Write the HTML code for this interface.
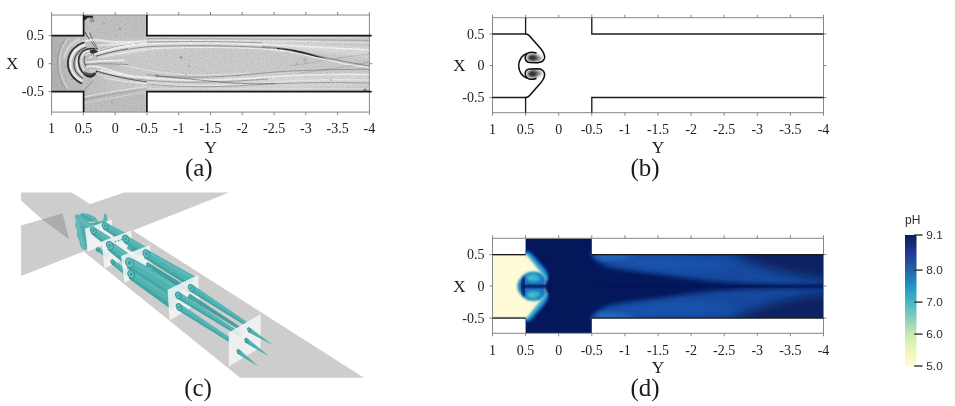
<!DOCTYPE html>
<html><head><meta charset="utf-8"><title>figure</title>
<style>
html,body{margin:0;padding:0;background:#fff;}
body{width:955px;height:406px;overflow:hidden;font-family:"Liberation Serif",serif;}
svg{display:block;}
svg text{font-family:"Liberation Serif",serif;fill:#1a1a1a;opacity:0.99;}
svg text.sans{font-family:"Liberation Sans",sans-serif;fill:#2a2a2a;}
</style></head><body>
<svg width="955" height="406" viewBox="0 0 955 406">
<rect width="955" height="406" fill="#fff"/>
<defs>
<clipPath id="ca"><path d="M51.6 35.7H83.6V15.0H146.9V35.7H369.4V91.6H146.9V112.1H83.6V91.6H51.6Z"/></clipPath>
<filter id="fa" x="-5%" y="-5%" width="110%" height="110%"><feGaussianBlur stdDeviation="0.45"/></filter>
<filter id="fa2" x="-5%" y="-20%" width="110%" height="140%"><feGaussianBlur stdDeviation="1.6"/></filter>
<filter id="noise" x="0" y="0" width="100%" height="100%"><feTurbulence type="fractalNoise" baseFrequency="0.7" numOctaves="2" seed="4" result="n"/><feColorMatrix in="n" type="matrix" values="0 0 0 0 0  0 0 0 0 0  0 0 0 0 0  0.9 0 0 0 -0.32"/></filter>
<linearGradient id="ga" x1="0" y1="0" x2="1" y2="0"><stop offset="0" stop-color="#b9b9b9"/><stop offset="0.1" stop-color="#c2c2c2"/><stop offset="0.3" stop-color="#d0d0d0"/><stop offset="0.75" stop-color="#d3d3d3"/><stop offset="1" stop-color="#cacaca"/></linearGradient>
</defs>
<g clip-path="url(#ca)"><rect x="51.6" y="15.0" width="317.79999999999995" height="97.1" fill="url(#ga)"/>
<rect x="83.6" y="15.0" width="63.30000000000001" height="23.700000000000003" fill="#c4c4c4" filter="url(#fa2)"/>
<rect x="83.6" y="90.6" width="63.30000000000001" height="21.5" fill="#c2c2c2" filter="url(#fa2)"/>
<g filter="url(#fa2)"><path d="M96 50 C120 43 160 40 200 40.5 C250 41 300 43 369 47 L369 58 C320 52 290 48 260 47 C220 45.5 170 46 140 52 C120 56 105 58 96 56Z" fill="#e2e2e2" opacity="0.75"/><path d="M96 68 C120 74 150 78 200 79 C250 80 300 76 369 73 L369 86 C300 87 250 88 200 87 C160 86 120 82 98 76Z" fill="#dedede" opacity="0.7"/><path d="M118 63 C140 52 170 47 200 47 C240 47 270 48 285 50 C320 56 350 62 369 66 C340 68 300 70 260 72 C230 75 200 76.5 175 75 C150 73 130 68 118 63Z" fill="#cdcdcd" opacity="0.9"/><path d="M51 36H66C60 45 57 55 57 64C57 74 60 83 66 92H51Z" fill="#b4b4b4" opacity="0.8"/></g>
<g filter="url(#fa)"><path d="M97 53 C115 47 135 44 150 43.5 C190 42.5 230 43 262 44.5 C300 46 335 48 369 50" stroke="#f6f6f6" stroke-width="1.6" fill="none" opacity="0.95"/><path d="M110 44 C130 41 150 40.5 175 40.5 C220 40.5 260 41 300 41.5 C330 42 350 42.5 369 43" stroke="#f6f6f6" stroke-width="0.9" fill="none" opacity="0.8"/><path d="M100 51 C118 45.5 138 42.5 152 42 C190 41.3 230 41.6 262 42.8" stroke="#2a2a2a" stroke-width="0.7" fill="none" opacity="0.45"/><path d="M96 56 C112 51.5 135 47.5 152 46.5 C180 45.5 200 45.5 225 46 C250 46.5 268 47.5 280 49" stroke="#2a2a2a" stroke-width="0.8" fill="none" opacity="0.5"/><path d="M98 58 C115 54 138 50 155 48.5 C180 47.5 205 47.3 230 47.8 C255 48.2 272 49.5 284 51.5" stroke="#f6f6f6" stroke-width="1.0" fill="none" opacity="0.85"/><path d="M147 38.5 C200 38.5 280 39 369 40.5" stroke="#2a2a2a" stroke-width="0.6" fill="none" opacity="0.35"/><path d="M147 37.3 C200 37.4 280 37.6 369 38" stroke="#f6f6f6" stroke-width="0.7" fill="none" opacity="0.5"/><path d="M262 46.5 C280 47.5 292 49 305 52.5 C325 58 350 62.5 369 66" stroke="#2a2a2a" stroke-width="0.9" fill="none" opacity="0.45"/><path d="M277 48 C289 48.6 300 50.6 311 54 C317 55.9 323 57.8 329 59.6 C320 58 311 56 302 53.6 C294 51.4 286 49.8 277 48.9Z" fill="#1a1a1a" opacity="0.88"/><path d="M270 49.3 C285 50.5 300 53.5 315 57.5 C335 62.5 352 65.5 369 67.6" stroke="#f6f6f6" stroke-width="1.1" fill="none" opacity="0.95"/><path d="M100 70 C120 75.5 150 79 185 80 C215 80.5 240 79 268 77 C300 75 340 74 369 74.5" stroke="#f6f6f6" stroke-width="1.5" fill="none" opacity="0.9"/><path d="M98 72.5 C120 78 150 81.6 185 82.3 C215 82.6 240 81 268 79" stroke="#2a2a2a" stroke-width="0.7" fill="none" opacity="0.45"/><path d="M104 78 C130 83 160 85.5 200 85.5 C240 85.5 262 83 290 81 C320 79.5 345 79.5 369 80" stroke="#f6f6f6" stroke-width="1.0" fill="none" opacity="0.75"/><path d="M147 84 C180 87.3 215 87.6 250 85 C290 82.5 330 82 369 83" stroke="#2a2a2a" stroke-width="0.8" fill="none" opacity="0.4"/><path d="M155 76 C185 78.5 200 80 225 82.5 C245 84 260 84 275 83.4" stroke="#2a2a2a" stroke-width="0.9" fill="none" opacity="0.5"/><path d="M147 88.6 C200 88.8 280 88.6 369 88.4" stroke="#f6f6f6" stroke-width="0.8" fill="none" opacity="0.6"/><path d="M147 74.5 C165 76.8 185 77.6 205 77.2 C230 76.5 252 74 275 72 C300 70.2 330 69.4 369 69.2" stroke="#2a2a2a" stroke-width="0.7" fill="none" opacity="0.45"/><path d="M120 64.5 C135 68 150 71.5 175 74 C200 75.8 225 75 250 72.8" stroke="#f6f6f6" stroke-width="0.9" fill="none" opacity="0.7"/><path d="M300 73 C320 70.5 345 67 369 62" stroke="#2a2a2a" stroke-width="0.5" fill="none" opacity="0.3"/><path d="M290 66 C310 63 335 58 369 54" stroke="#2a2a2a" stroke-width="0.5" fill="none" opacity="0.25"/><path d="M84 97 C100 93.5 120 90 147 86.5" stroke="#f6f6f6" stroke-width="1.2" fill="none" opacity="0.7"/><path d="M84 103 C105 99 125 95.5 147 92" stroke="#f6f6f6" stroke-width="0.9" fill="none" opacity="0.5"/><path d="M84 99.5 C105 95.5 125 92 147 88.6" stroke="#2a2a2a" stroke-width="0.6" fill="none" opacity="0.3"/><path d="M84.4 31.5 C88 37.5 92.5 43.5 97.3 49.3" stroke="#2a2a2a" stroke-width="1.0" fill="none" opacity="0.85"/><path d="M89.6 32.5 C91.6 38 94.4 43.5 97.6 49.6" stroke="#2a2a2a" stroke-width="0.8" fill="none" opacity="0.75"/><path d="M87.5 33.5 C90 38.5 93 43.5 96.5 48" stroke="#f6f6f6" stroke-width="1.0" fill="none" opacity="0.6"/><path d="M72.5 50 C76 44.5 83 40.5 92 40 C98 39.8 104 41 112 41.8 C122 42.5 135 42.2 147 41.8" stroke="#f6f6f6" stroke-width="2.4" fill="none" opacity="0.75"/><path d="M98 45.5 C108 45 120 44.3 135 43.8" stroke="#f6f6f6" stroke-width="1.6" fill="none" opacity="0.85"/><path d="M83.8 91.5 C86.5 87.5 90 83.5 93.5 80.5" stroke="#555" stroke-width="0.7" fill="none" opacity="0.55"/><path d="M84.5 42.3 C76 44.5 69 51.5 68 61 C67 70 72 79 82 83.5" stroke="#2a2a2a" stroke-width="1.9" fill="none" opacity="0.9"/><path d="M85.5 44.6 C78 46.6 71.2 53 70.5 61.5 C69.8 69.5 74 77 82.5 81.2" stroke="#f6f6f6" stroke-width="2.3" fill="none" opacity="0.95"/><path d="M86 47.2 C79.8 49.2 74.6 54.8 73.9 62 C73.3 68.5 76.8 74.5 82.8 78.4" stroke="#2a2a2a" stroke-width="1.1" fill="none" opacity="0.75"/><path d="M86.2 49.8 C81.4 51.2 77.4 56 76.7 62 C76.2 67 78.8 72 83.2 75.4" stroke="#f6f6f6" stroke-width="1.6" fill="none" opacity="0.92"/><path d="M80 38.8 C71.5 42.3 65.8 49.5 64 59" stroke="#f6f6f6" stroke-width="2.6" fill="none" opacity="0.45"/><path d="M66 38 C59.5 46 57 55 57.3 64 C57.5 73 60.5 82 65.5 89" stroke="#2a2a2a" stroke-width="0.7" fill="none" opacity="0.3"/><path d="M68 38.5 C62 46 59.5 55 59.8 64 C60 73 62.8 81 67.5 88" stroke="#f6f6f6" stroke-width="1.2" fill="none" opacity="0.5"/><path d="M95.5 48.8 C89.5 48 83 49.5 80.3 54 C78 58 78.5 64 80 68 C82 73 86 76.5 90 76.6 C93 76.5 95.5 74 96.8 71" stroke="#2a2a2a" stroke-width="1.7" fill="none" opacity="0.9"/><path d="M93 51 C88.5 50.5 84 52 82.3 55.5 C80.7 59 81 63.5 82.3 67 C84 71 87 73.8 90 74" stroke="#f6f6f6" stroke-width="1.2" fill="none" opacity="0.9"/><path d="M92 53.2 C88.5 53 85.5 54.5 84.5 57.5 C83.7 60.5 84.5 64 86 66.5" stroke="#2a2a2a" stroke-width="0.9" fill="none" opacity="0.7"/><path d="M90 50.2 C93 49.2 96.5 49.5 98.2 51.3 C97 54 94.5 55.3 92 55.8 C90.6 54.5 89.6 52.3 90 50.2Z" fill="#1b1b1b" opacity="0.85"/><path d="M84 70.5 C87 73.5 91 74 95.2 72.3 C96.2 74.5 94 77.5 90 77.8 C86.5 77.6 84.3 74.5 84 70.5Z" fill="#222" opacity="0.7"/><path d="M85.5 55.8 C87.5 53.3 90.5 52.8 92.3 54.3 C93 55.8 91.5 57.3 89 57.8" stroke="#f6f6f6" stroke-width="1.1" fill="none" opacity="0.95"/><path d="M93.5 54.5 C104 51 115 48 127 46 C135 44.8 142 44 147 43.6" stroke="#f6f6f6" stroke-width="1.8" fill="none" opacity="0.95"/><path d="M96 56.3 C106 53.3 117 50.5 128 48.6" stroke="#2a2a2a" stroke-width="0.8" fill="none" opacity="0.5"/><path d="M85.5 62.3 C95 61.3 108 60.6 125 60.4" stroke="#f6f6f6" stroke-width="1.6" fill="none" opacity="0.9"/><path d="M85 64.5 C96 63.6 110 63.5 128 64.6" stroke="#2a2a2a" stroke-width="0.7" fill="none" opacity="0.45"/><path d="M86.5 67 C92 65.6 98 66.3 104 68.3 C114 71.8 124 75 136 77.5" stroke="#f6f6f6" stroke-width="1.7" fill="none" opacity="0.95"/><path d="M96.5 71 C104 73.2 114 76 126 78.6 C133 80 140 81 147 81.8" stroke="#2a2a2a" stroke-width="1.0" fill="none" opacity="0.7"/><path d="M90 70.3 C93 70.6 95 71.6 96.5 73" stroke="#f6f6f6" stroke-width="1.0" fill="none" opacity="0.8"/></g>
<g filter="url(#fa)"><circle cx="181" cy="57.5" r="1.6" fill="#555" opacity="0.35"/><circle cx="189" cy="66" r="1.2" fill="#555" opacity="0.2"/><circle cx="157" cy="75.5" r="1.1" fill="#555" opacity="0.3"/><circle cx="186" cy="74.5" r="0.9" fill="#555" opacity="0.3"/><circle cx="305" cy="60" r="2.2" fill="#555" opacity="0.18"/><circle cx="297" cy="63" r="1.6" fill="#555" opacity="0.15"/><circle cx="238" cy="75" r="1" fill="#555" opacity="0.2"/><circle cx="120" cy="29" r="1.3" fill="#555" opacity="0.25"/><circle cx="104" cy="23" r="1.5" fill="#555" opacity="0.2"/><circle cx="92" cy="20" r="2.5" fill="#555" opacity="0.35"/><circle cx="112" cy="102" r="1.5" fill="#555" opacity="0.15"/><circle cx="331" cy="80" r="1.2" fill="#555" opacity="0.2"/><circle cx="365" cy="90" r="1.8" fill="#555" opacity="0.5"/></g>
<path d="M84 15.5h9v2.2h-5l-4 3Z" fill="#111" opacity="0.85" filter="url(#fa)"/>
<rect x="51.6" y="15.0" width="317.79999999999995" height="97.1" filter="url(#noise)" opacity="0.22"/></g>
<rect x="51.6" y="15.0" width="317.79999999999995" height="97.1" fill="none" stroke="#868686" stroke-width="1"/>
<path d="M51.60 12.0V15.0 M51.60 112.1V115.1 M83.38 12.0V15.0 M83.38 112.1V115.1 M115.16 12.0V15.0 M115.16 112.1V115.1 M146.94 12.0V15.0 M146.94 112.1V115.1 M178.72 12.0V15.0 M178.72 112.1V115.1 M210.50 12.0V15.0 M210.50 112.1V115.1 M242.28 12.0V15.0 M242.28 112.1V115.1 M274.06 12.0V15.0 M274.06 112.1V115.1 M305.84 12.0V15.0 M305.84 112.1V115.1 M337.62 12.0V15.0 M337.62 112.1V115.1 M369.40 12.0V15.0 M369.40 112.1V115.1 M48.6 35.7H51.6 M369.4 35.7H372.4 M48.6 63.7H51.6 M369.4 63.7H372.4 M48.6 91.6H51.6 M369.4 91.6H372.4 " stroke="#868686" stroke-width="1" fill="none"/>
<path d="M51.6 35.7H83.6V15.0 M146.9 15.0V35.7H371.4 M51.6 91.6H83.6V112.1 M146.9 112.1V91.6H371.4" stroke="#161616" stroke-width="1.7" fill="none"/>
<text x="51.60" y="133.2" text-anchor="middle" font-size="14">1</text>
<text x="83.38" y="133.2" text-anchor="middle" font-size="14">0.5</text>
<text x="115.16" y="133.2" text-anchor="middle" font-size="14">0</text>
<text x="146.94" y="133.2" text-anchor="middle" font-size="14">-0.5</text>
<text x="178.72" y="133.2" text-anchor="middle" font-size="14">-1</text>
<text x="210.50" y="133.2" text-anchor="middle" font-size="14">-1.5</text>
<text x="242.28" y="133.2" text-anchor="middle" font-size="14">-2</text>
<text x="274.06" y="133.2" text-anchor="middle" font-size="14">-2.5</text>
<text x="305.84" y="133.2" text-anchor="middle" font-size="14">-3</text>
<text x="337.62" y="133.2" text-anchor="middle" font-size="14">-3.5</text>
<text x="369.40" y="133.2" text-anchor="middle" font-size="14">-4</text>
<text x="44" y="40.40" text-anchor="end" font-size="14">0.5</text>
<text x="44" y="68.40" text-anchor="end" font-size="14">0</text>
<text x="44" y="96.30" text-anchor="end" font-size="14">-0.5</text>
<text x="12.2" y="69" text-anchor="middle" font-size="17">X</text>
<text x="210.5" y="152.5" text-anchor="middle" font-size="17.5">Y</text>
<text x="198.8" y="176.2" text-anchor="middle" font-size="25">(a)</text>
<defs><filter id="fb" x="-30%" y="-30%" width="160%" height="160%"><feGaussianBlur stdDeviation="1.5"/></filter>
<filter id="fb2" x="-10%" y="-10%" width="120%" height="120%"><feGaussianBlur stdDeviation="0.35"/></filter></defs>
<rect x="492.5" y="17.7" width="331.0" height="95.0" fill="none" stroke="#868686" stroke-width="1"/>
<path d="M492.50 14.7V17.7 M492.50 112.7V115.7 M525.60 14.7V17.7 M525.60 112.7V115.7 M558.70 14.7V17.7 M558.70 112.7V115.7 M591.80 14.7V17.7 M591.80 112.7V115.7 M624.90 14.7V17.7 M624.90 112.7V115.7 M658.00 14.7V17.7 M658.00 112.7V115.7 M691.10 14.7V17.7 M691.10 112.7V115.7 M724.20 14.7V17.7 M724.20 112.7V115.7 M757.30 14.7V17.7 M757.30 112.7V115.7 M790.40 14.7V17.7 M790.40 112.7V115.7 M823.50 14.7V17.7 M823.50 112.7V115.7 M489.5 34.0H492.5 M823.5 34.0H826.5 M489.5 65.5H492.5 M823.5 65.5H826.5 M489.5 97.5H492.5 M823.5 97.5H826.5 " stroke="#868686" stroke-width="1" fill="none"/>
<path d="M492.5 34.0H525.6 M525.6 17.7V34.0 M591.8 17.7V34.0H823.5 M492.5 97.5H525.6 M525.6 112.7V97.5 M591.8 112.7V97.5H823.5" stroke="#1c1c1c" stroke-width="1.35" fill="none"/>
<g><ellipse cx="532.3" cy="57.6" rx="4.6" ry="3.2" fill="#111" opacity="0.9" filter="url(#fb)"/><ellipse cx="535.5" cy="58.3" rx="6.5" ry="3.0" fill="#333" opacity="0.6" filter="url(#fb)"/><path d="M525.6 34 Q528 34 529.6 35.9 L540.6 48.5 Q545.6 54.8 544.4 58.6 Q543 62.6 537.5 62.7 L529.5 62.4 Q525.8 62 525.2 58.5 Q525 54.5 528.5 52.8 Q532 51.5 536 53" stroke="#0d0d0d" stroke-width="1.5" fill="none" stroke-linecap="round" stroke-linejoin="round" filter="url(#fb2)"/><path d="M527.3 53.3 Q519.3 56 518.6 65.8" stroke="#0d0d0d" stroke-width="1.6" fill="none" filter="url(#fb2)"/></g>
<g transform="translate(0 131.5) scale(1 -1)"><ellipse cx="532.3" cy="57.6" rx="4.6" ry="3.2" fill="#111" opacity="0.9" filter="url(#fb)"/><ellipse cx="535.5" cy="58.3" rx="6.5" ry="3.0" fill="#333" opacity="0.6" filter="url(#fb)"/><path d="M525.6 34 Q528 34 529.6 35.9 L540.6 48.5 Q545.6 54.8 544.4 58.6 Q543 62.6 537.5 62.7 L529.5 62.4 Q525.8 62 525.2 58.5 Q525 54.5 528.5 52.8 Q532 51.5 536 53" stroke="#0d0d0d" stroke-width="1.5" fill="none" stroke-linecap="round" stroke-linejoin="round" filter="url(#fb2)"/><path d="M527.3 53.3 Q519.3 56 518.6 65.8" stroke="#0d0d0d" stroke-width="1.6" fill="none" filter="url(#fb2)"/></g>
<text x="492.50" y="134.2" text-anchor="middle" font-size="14">1</text>
<text x="525.60" y="134.2" text-anchor="middle" font-size="14">0.5</text>
<text x="558.70" y="134.2" text-anchor="middle" font-size="14">0</text>
<text x="591.80" y="134.2" text-anchor="middle" font-size="14">-0.5</text>
<text x="624.90" y="134.2" text-anchor="middle" font-size="14">-1</text>
<text x="658.00" y="134.2" text-anchor="middle" font-size="14">-1.5</text>
<text x="691.10" y="134.2" text-anchor="middle" font-size="14">-2</text>
<text x="724.20" y="134.2" text-anchor="middle" font-size="14">-2.5</text>
<text x="757.30" y="134.2" text-anchor="middle" font-size="14">-3</text>
<text x="790.40" y="134.2" text-anchor="middle" font-size="14">-3.5</text>
<text x="823.50" y="134.2" text-anchor="middle" font-size="14">-4</text>
<text x="484.5" y="38.70" text-anchor="end" font-size="14">0.5</text>
<text x="484.5" y="70.20" text-anchor="end" font-size="14">0</text>
<text x="484.5" y="102.20" text-anchor="end" font-size="14">-0.5</text>
<text x="459.5" y="71" text-anchor="middle" font-size="17">X</text>
<text x="658" y="152.7" text-anchor="middle" font-size="17.5">Y</text>
<text x="645" y="176.2" text-anchor="middle" font-size="25">(b)</text>
<defs><filter id="fc" x="-10%" y="-10%" width="120%" height="120%"><feGaussianBlur stdDeviation="0.4"/></filter>
<filter id="fc2" x="-20%" y="-20%" width="140%" height="140%"><feGaussianBlur stdDeviation="0.9"/></filter></defs>
<g filter="url(#fc)"><path d="M21.1 225.6 L62.5 213.3 L124.4 192.4 L229.2 192.4 L132.8 230.6 L364 377.8 L240.1 377.8 L83.6 251.4 L21.1 276Z" fill="#cdcdcd"/>
<path d="M21.1 192.4 L71.6 192.4 L90.3 204.3 L63 214.2 L69.1 239.2 L42 219.3 L21.1 200.4Z" fill="#cdcdcd"/>
<path d="M42 219.4 L62.5 213.3 L69.1 239.2Z" fill="#acacac"/>
<path d="M136.9 230.8 L364 378 L352 378 L131 234Z" fill="#d6d6d6" opacity="0.0"/>
<g><path d="M74.6 216 L76.5 214.2 L79 215 L81.5 213.2 C86 213 91 214.5 95.5 217.5 L98 221.5 L103.2 220.5 L104.2 214 L106.2 213.4 L107.6 221 L111 224 L93 232 L89.5 236 L88.5 243 L86.5 250 L82.5 249.6 L80.2 245.5 L79.2 240 L77 236.5 L77.2 230 L75.2 226 L76 221Z" fill="#45aead" opacity="0.85"/><path d="M76.5 217.5 C78.5 228 80.5 239 84 248.5" stroke="#6cc5c1" stroke-width="2.4" fill="none" opacity="0.55"/><path d="M81 214.5 C87 217.5 93 221.5 99 225.5" stroke="#2e9597" stroke-width="1.8" fill="none" opacity="0.5"/><path d="M79.5 219 C85 223 90 226.5 96 229.5" stroke="#6cc5c1" stroke-width="2.2" fill="none" opacity="0.5"/><path d="M82.5 226 C84 232 85.5 240 86.5 247" stroke="#2e9597" stroke-width="1.6" fill="none" opacity="0.4"/><path d="M88.8 222.4 L95.4 222 " stroke="#e6f2f1" stroke-width="0.9" fill="none" opacity="0.9"/><path d="M85 228.7 L111.8 219.4 L112.7 241 L87.7 251.8Z" fill="#f6f6f6" opacity="0.88"/><path d="M91.3 234.1 L109.2 247.9 L114.8 240.1 L95.7 227.9Z" fill="#45aead" opacity="0.93"/><path d="M91.3 234.1 L109.2 247.9 L110.8 245.7 L92.5 232.4Z" fill="#2e9597" opacity="0.45"/><path d="M94.2 230.1 L112.8 242.8 L114.1 241.0 L95.2 228.6Z" fill="#6cc5c1" opacity="0.45"/><path d="M103.6 229.6 L124.7 242.9 L129.3 235.1 L107.4 223.2Z" fill="#45aead" opacity="0.93"/><path d="M103.6 229.6 L124.7 242.9 L126.0 240.7 L104.7 227.8Z" fill="#2e9597" opacity="0.45"/><path d="M106.1 225.4 L127.7 237.8 L128.7 236.0 L106.9 224.0Z" fill="#6cc5c1" opacity="0.45"/><path d="M96.4 249.9 L106.7 258.2 L109.3 254.8 L98.6 247.1Z" fill="#45aead" opacity="0.93"/><path d="M96.4 249.9 L106.7 258.2 L107.4 257.3 L97.0 249.1Z" fill="#2e9597" opacity="0.45"/><path d="M97.8 248.1 L108.4 256.0 L109.0 255.2 L98.3 247.4Z" fill="#6cc5c1" opacity="0.45"/><ellipse cx="93.3" cy="230.5" rx="2.7" ry="3.5" transform="rotate(-25 93.3 230.5)" fill="#69bfbc" stroke="#2e9597" stroke-width="1.0"/><ellipse cx="93.3" cy="230.5" rx="1.13" ry="1.47" transform="rotate(-25 93.3 230.5)" fill="#35979a" opacity="0.85"/><ellipse cx="105.3" cy="225.9" rx="2.8" ry="3.5" transform="rotate(-25 105.3 225.9)" fill="#69bfbc" stroke="#2e9597" stroke-width="1.0"/><ellipse cx="105.3" cy="225.9" rx="1.18" ry="1.47" transform="rotate(-25 105.3 225.9)" fill="#35979a" opacity="0.85"/><ellipse cx="97.8" cy="249.6" rx="1.4" ry="1.9" transform="rotate(-25 97.8 249.6)" fill="#69bfbc" stroke="#2e9597" stroke-width="1.0"/><ellipse cx="97.8" cy="249.6" rx="0.59" ry="0.80" transform="rotate(-25 97.8 249.6)" fill="#35979a" opacity="0.85"/><path d="M101.6 241.6 L131.2 230.5 L133 255.5 L104.4 268.4Z" fill="#f6f6f6" opacity="0.86"/><path d="M107.5 249.8 L127.5 266.6 L134.5 257.4 L112.9 242.6Z" fill="#45aead" opacity="0.93"/><path d="M107.5 249.8 L127.5 266.6 L129.5 264.0 L109.0 247.8Z" fill="#2e9597" opacity="0.45"/><path d="M111.0 245.1 L132.0 260.6 L133.6 258.5 L112.3 243.5Z" fill="#6cc5c1" opacity="0.45"/><path d="M123.7 242.6 L144.4 257.0 L149.6 249.0 L127.9 236.2Z" fill="#45aead" opacity="0.93"/><path d="M123.7 242.6 L144.4 257.0 L145.9 254.8 L124.9 240.8Z" fill="#2e9597" opacity="0.45"/><path d="M126.4 238.4 L147.8 251.8 L149.0 249.9 L127.4 237.0Z" fill="#6cc5c1" opacity="0.45"/><path d="M111.4 263.7 L126.3 276.2 L129.7 271.8 L114.0 260.3Z" fill="#45aead" opacity="0.93"/><path d="M111.4 263.7 L126.3 276.2 L127.3 275.0 L112.1 262.7Z" fill="#2e9597" opacity="0.45"/><path d="M113.1 261.5 L128.5 273.4 L129.3 272.4 L113.7 260.7Z" fill="#6cc5c1" opacity="0.45"/><path d="M126.7 248.2 L139.0 257.0 L141.0 254.0 L128.3 245.8Z" fill="#2e9597" opacity="0.8"/><ellipse cx="109.9" cy="245.6" rx="3.1" ry="4.2" transform="rotate(-25 109.9 245.6)" fill="#69bfbc" stroke="#2e9597" stroke-width="1.0"/><ellipse cx="109.9" cy="245.6" rx="1.30" ry="1.76" transform="rotate(-25 109.9 245.6)" fill="#35979a" opacity="0.85"/><ellipse cx="125.6" cy="238.8" rx="2.8" ry="3.7" transform="rotate(-25 125.6 238.8)" fill="#69bfbc" stroke="#2e9597" stroke-width="1.0"/><ellipse cx="125.6" cy="238.8" rx="1.18" ry="1.55" transform="rotate(-25 125.6 238.8)" fill="#35979a" opacity="0.85"/><ellipse cx="112.7" cy="262" rx="1.6" ry="2.2" transform="rotate(-25 112.7 262)" fill="#69bfbc" stroke="#2e9597" stroke-width="1.0"/><ellipse cx="112.7" cy="262" rx="0.67" ry="0.92" transform="rotate(-25 112.7 262)" fill="#35979a" opacity="0.85"/><circle cx="115.5" cy="241.6" r="0.8" fill="#2e9597"/><circle cx="118.6" cy="240.6" r="0.8" fill="#2e9597"/><circle cx="121.4" cy="239.8" r="0.7" fill="#2e9597"/><path d="M121.1 256.1 L149.9 245 L152 270 L124.4 282.7Z" fill="#f6f6f6" opacity="0.86"/><path d="M144.1 258.0 L190.1 286.9 L195.9 277.1 L148.7 250.4Z" fill="#45aead" opacity="0.93"/><path d="M144.1 258.0 L190.1 286.9 L191.7 284.2 L145.4 255.9Z" fill="#2e9597" opacity="0.45"/><path d="M147.1 253.1 L193.9 280.5 L195.2 278.2 L148.1 251.3Z" fill="#6cc5c1" opacity="0.45"/><path d="M126.9 268.3 L175.8 301.4 L184.2 287.8 L132.9 258.5Z" fill="#45aead" opacity="0.93"/><path d="M126.9 268.3 L175.8 301.4 L178.1 297.6 L128.6 265.5Z" fill="#2e9597" opacity="0.45"/><path d="M130.8 261.9 L181.3 292.6 L183.2 289.4 L132.2 259.7Z" fill="#6cc5c1" opacity="0.45"/><path d="M128.7 278.5 L171.5 309.4 L178.5 299.0 L133.7 271.1Z" fill="#45aead" opacity="0.93"/><path d="M128.7 278.5 L171.5 309.4 L173.5 306.5 L130.1 276.4Z" fill="#2e9597" opacity="0.45"/><path d="M132.0 273.7 L176.0 302.6 L177.6 300.3 L133.1 272.0Z" fill="#6cc5c1" opacity="0.45"/><path d="M147.2 266.3 L188.7 293.1 L191.3 288.9 L149.2 263.3Z" fill="#2e9597" opacity="0.85"/><ellipse cx="146.4" cy="253.8" rx="3.1" ry="4.2" transform="rotate(-25 146.4 253.8)" fill="#69bfbc" stroke="#2e9597" stroke-width="1.0"/><ellipse cx="146.4" cy="253.8" rx="1.30" ry="1.76" transform="rotate(-25 146.4 253.8)" fill="#35979a" opacity="0.85"/><ellipse cx="129.6" cy="262.8" rx="3.7" ry="5.0" transform="rotate(-25 129.6 262.8)" fill="#69bfbc" stroke="#2e9597" stroke-width="1.0"/><ellipse cx="129.6" cy="262.8" rx="1.55" ry="2.10" transform="rotate(-25 129.6 262.8)" fill="#35979a" opacity="0.85"/><ellipse cx="131.2" cy="274.3" rx="3.1" ry="4.1" transform="rotate(-25 131.2 274.3)" fill="#69bfbc" stroke="#2e9597" stroke-width="1.0"/><ellipse cx="131.2" cy="274.3" rx="1.30" ry="1.72" transform="rotate(-25 131.2 274.3)" fill="#35979a" opacity="0.85"/><ellipse cx="148.2" cy="264.8" rx="1.5" ry="2.0" transform="rotate(-25 148.2 264.8)" fill="#69bfbc" stroke="#2e9597" stroke-width="1.0"/><ellipse cx="148.2" cy="264.8" rx="0.63" ry="0.84" transform="rotate(-25 148.2 264.8)" fill="#35979a" opacity="0.85"/><path d="M167.6 289.8 L198.2 274.8 L199.5 302.8 L169.5 320.4Z" fill="#f6f6f6" opacity="0.86"/><path d="M189.3 290.9 L244.9 325.3 L247.1 321.9 L193.1 285.1Z" fill="#45aead" opacity="0.93"/><path d="M189.3 290.9 L244.9 325.3 L245.5 324.3 L190.4 289.3Z" fill="#2e9597" opacity="0.45"/><path d="M191.8 287.1 L246.3 323.1 L246.8 322.3 L192.6 285.8Z" fill="#6cc5c1" opacity="0.45"/><path d="M187.3 297.4 L239.2 329.8 L240.8 327.2 L189.7 293.6Z" fill="#2e9597" opacity="0.85"/><path d="M176.6 298.2 L240.5 337.0 L242.5 334.0 L180.2 292.6Z" fill="#45aead" opacity="0.93"/><path d="M176.6 298.2 L240.5 337.0 L241.1 336.2 L177.6 296.6Z" fill="#2e9597" opacity="0.45"/><path d="M178.9 294.6 L241.8 335.0 L242.2 334.3 L179.7 293.3Z" fill="#6cc5c1" opacity="0.45"/><path d="M177.2 309.8 L228.9 341.8 L231.1 338.2 L180.8 304.2Z" fill="#45aead" opacity="0.93"/><path d="M177.2 309.8 L228.9 341.8 L229.5 340.8 L178.2 308.2Z" fill="#2e9597" opacity="0.45"/><path d="M179.5 306.2 L230.3 339.5 L230.9 338.7 L180.4 304.9Z" fill="#6cc5c1" opacity="0.45"/><ellipse cx="191.2" cy="288" rx="2.6" ry="3.6" transform="rotate(-25 191.2 288)" fill="#69bfbc" stroke="#2e9597" stroke-width="1.0"/><ellipse cx="191.2" cy="288" rx="1.09" ry="1.51" transform="rotate(-25 191.2 288)" fill="#35979a" opacity="0.85"/><ellipse cx="178.4" cy="295.4" rx="2.6" ry="3.5" transform="rotate(-25 178.4 295.4)" fill="#69bfbc" stroke="#2e9597" stroke-width="1.0"/><ellipse cx="178.4" cy="295.4" rx="1.09" ry="1.47" transform="rotate(-25 178.4 295.4)" fill="#35979a" opacity="0.85"/><ellipse cx="179" cy="307" rx="2.6" ry="3.5" transform="rotate(-25 179 307)" fill="#69bfbc" stroke="#2e9597" stroke-width="1.0"/><ellipse cx="179" cy="307" rx="1.09" ry="1.47" transform="rotate(-25 179 307)" fill="#35979a" opacity="0.85"/><path d="M228.8 332.6 L260.7 313.8 L260.7 347.5 L228.8 366.4Z" fill="#f6f6f6" opacity="0.84"/><path d="M248.2 331.9 L270.9 343.9 L271.1 343.7 L250.6 328.1Z" fill="#45aead" opacity="0.93"/><path d="M248.2 331.9 L270.9 343.9 L271.0 343.9 L248.9 330.9Z" fill="#2e9597" opacity="0.45"/><path d="M249.8 329.4 L271.0 343.8 L271.1 343.7 L250.3 328.5Z" fill="#6cc5c1" opacity="0.45"/><path d="M245.2 342.4 L268.5 356.1 L268.7 355.9 L247.8 338.6Z" fill="#45aead" opacity="0.93"/><path d="M245.2 342.4 L268.5 356.1 L268.6 356.1 L245.9 341.3Z" fill="#2e9597" opacity="0.45"/><path d="M246.9 339.9 L268.6 356.0 L268.7 355.9 L247.5 339.1Z" fill="#6cc5c1" opacity="0.45"/><path d="M237.3 353.4 L257.7 366.1 L257.9 365.9 L239.9 349.8Z" fill="#45aead" opacity="0.93"/><path d="M237.3 353.4 L257.7 366.1 L257.8 366.1 L238.0 352.4Z" fill="#2e9597" opacity="0.45"/><path d="M239.0 351.1 L257.8 366.0 L257.9 365.9 L239.6 350.3Z" fill="#6cc5c1" opacity="0.45"/><ellipse cx="249.2" cy="329.8" rx="1.4" ry="2.2" transform="rotate(-25 249.2 329.8)" fill="#69bfbc" stroke="#2e9597" stroke-width="1.0"/><ellipse cx="249.2" cy="329.8" rx="0.59" ry="0.92" transform="rotate(-25 249.2 329.8)" fill="#35979a" opacity="0.85"/><ellipse cx="246.4" cy="340.4" rx="1.4" ry="2.2" transform="rotate(-25 246.4 340.4)" fill="#69bfbc" stroke="#2e9597" stroke-width="1.0"/><ellipse cx="246.4" cy="340.4" rx="0.59" ry="0.92" transform="rotate(-25 246.4 340.4)" fill="#35979a" opacity="0.85"/><ellipse cx="238.5" cy="351.5" rx="1.3" ry="2.1" transform="rotate(-25 238.5 351.5)" fill="#69bfbc" stroke="#2e9597" stroke-width="1.0"/><ellipse cx="238.5" cy="351.5" rx="0.55" ry="0.88" transform="rotate(-25 238.5 351.5)" fill="#35979a" opacity="0.85"/></g></g>
<text x="198" y="395.8" text-anchor="middle" font-size="25">(c)</text>
<defs>
<clipPath id="cd"><path d="M492.5 254.6H525.6V238.29999999999998H591.8V254.6H823.5V318.1H591.8V333.3H525.6V318.1H492.5Z"/></clipPath>
<filter id="fd1" x="-20%" y="-20%" width="140%" height="140%"><feGaussianBlur stdDeviation="0.9"/></filter>
<filter id="fd2" x="-10%" y="-30%" width="120%" height="160%"><feGaussianBlur stdDeviation="2.6"/></filter>
<filter id="fd3" x="-10%" y="-30%" width="120%" height="160%"><feGaussianBlur stdDeviation="4"/></filter>
</defs>
<g clip-path="url(#cd)"><rect x="492.5" y="238.29999999999998" width="331.0" height="95.00000000000003" fill="#04175a"/>
<g transform="translate(0 220.6)"><path d="M590 32 L826 32 L826 64.2 C800 64.3 770 64 745 63 C715 61.5 690 58.5 665 54.5 C645 51.5 625 50 612 47.5 C602 45 596 40 590 34Z" fill="#15499f" filter="url(#fd2)"/><path d="M600 33 C640 36 690 37 740 44 C720 50 690 52 660 49 C635 46.5 612 43 600 36Z" fill="#1b59b3" opacity="0.8" filter="url(#fd3)"/><path d="M592 33 L640 33 C625 38.5 608 40.5 597 39 Z" fill="#2a74c8" opacity="0.8" filter="url(#fd2)"/><path d="M728 28 L830 28 L830 59.5 C805 57 772 50 745 39Z" fill="#08205f" opacity="0.97" filter="url(#fd3)"/></g>
<g transform="translate(0 352.1) scale(1 -1)"><path d="M590 32 L826 32 L826 64.2 C800 64.3 770 64 745 63 C715 61.5 690 58.5 665 54.5 C645 51.5 625 50 612 47.5 C602 45 596 40 590 34Z" fill="#15499f" filter="url(#fd2)"/><path d="M600 33 C640 36 690 37 740 44 C720 50 690 52 660 49 C635 46.5 612 43 600 36Z" fill="#1b59b3" opacity="0.8" filter="url(#fd3)"/><path d="M592 33 L640 33 C625 38.5 608 40.5 597 39 Z" fill="#2a74c8" opacity="0.8" filter="url(#fd2)"/><path d="M728 28 L830 28 L830 59.5 C805 57 772 50 745 39Z" fill="#08205f" opacity="0.97" filter="url(#fd3)"/></g>
<rect x="600" y="285.25" width="226" height="2.2" fill="#04175a" opacity="0.95" filter="url(#fd1)"/>
<g transform="translate(0 220.6)"><path d="M525.6 34 Q528 34 529.6 35.9 L540.6 48.5 Q545.8 54.8 544.6 58.8" stroke="#0d3a94" stroke-width="9.5" fill="none" stroke-linejoin="round" opacity="0.9" filter="url(#fd1)"/><path d="M525.6 34 Q528 34 529.6 35.9 L540.6 48.5 Q545.8 54.8 544.6 58.8" stroke="#1670c6" stroke-width="6.4" fill="none" stroke-linejoin="round" filter="url(#fd1)"/><path d="M525.6 34 Q528 34 529.6 35.9 L540.6 48.5 Q545.8 54.8 544.6 58.8" stroke="#2fa9cb" stroke-width="3.4" fill="none" stroke-linejoin="round" filter="url(#fd1)"/><path d="M525.6 97.5 Q528 97.5 529.6 95.6 L540.6 83.0 Q545.8 76.7 544.6 72.7" stroke="#0d3a94" stroke-width="9.5" fill="none" stroke-linejoin="round" opacity="0.9" filter="url(#fd1)"/><path d="M525.6 97.5 Q528 97.5 529.6 95.6 L540.6 83.0 Q545.8 76.7 544.6 72.7" stroke="#1670c6" stroke-width="6.4" fill="none" stroke-linejoin="round" filter="url(#fd1)"/><path d="M525.6 97.5 Q528 97.5 529.6 95.6 L540.6 83.0 Q545.8 76.7 544.6 72.7" stroke="#2fa9cb" stroke-width="3.4" fill="none" stroke-linejoin="round" filter="url(#fd1)"/><path d="M490 34 L525.6 34 Q526.6 34 528 35.9 L538.2 48.5 Q543.4 54.8 542.4 58.8 L542.4 72.7 Q543.4 76.7 538.2 83.0 L528 95.6 Q526.6 97.5 525.6 97.5 L490 97.5 Z" fill="#fffbd7" stroke="#c5e8c0" stroke-width="1.0" filter="url(#fd1)"/><path d="M546 58.6 Q543.5 52.3 536 51.3 Q528 50.3 523 55 Q517.3 60 517.3 65.75 Q517.3 71.5 523 76.5 Q528 81.2 536 80.2 Q543.5 79.2 546 72.9 Z" fill="#1a6fc4" stroke="#7fd0c4" stroke-width="1.2" filter="url(#fd1)"/><ellipse cx="534.2" cy="57.1" rx="8.4" ry="4.6" fill="#2399c8" filter="url(#fd1)"/><ellipse cx="533.3" cy="57.2" rx="6.0" ry="3.0" fill="#3bb7c9" filter="url(#fd1)"/><ellipse cx="531" cy="57.2" rx="2.0" ry="1.1" fill="#5cc5c6" opacity="0.8" filter="url(#fd1)"/><path d="M536.5 54 Q542 55.5 542 60.5" stroke="#176dc2" stroke-width="1.5" fill="none" opacity="0.75" filter="url(#fd1)"/><g transform="translate(0 131.5) scale(1 -1)"><ellipse cx="534.2" cy="57.1" rx="8.4" ry="4.6" fill="#2399c8" filter="url(#fd1)"/><ellipse cx="533.3" cy="57.2" rx="6.0" ry="3.0" fill="#3bb7c9" filter="url(#fd1)"/><ellipse cx="531" cy="57.2" rx="2.0" ry="1.1" fill="#5cc5c6" opacity="0.8" filter="url(#fd1)"/><path d="M536.5 54 Q542 55.5 542 60.5" stroke="#176dc2" stroke-width="1.5" fill="none" opacity="0.75" filter="url(#fd1)"/></g><path d="M523 64.2 H549 V67.2 H523 Q521.5 65.75 523 64.2Z" fill="#04175a" filter="url(#fd1)"/><path d="M546 62.8 L549.5 60.5 V71 L546 68.7Z" fill="#04175a" filter="url(#fd1)"/><path d="M524.2 56.8 Q520.4 65.75 524.2 74.7 Q523.2 65.75 524.2 56.8Z" fill="#04175a" stroke="#04175a" stroke-width="2.3" stroke-linejoin="round" opacity="0.95" filter="url(#fd1)"/></g></g>
<rect x="492.5" y="238.29999999999998" width="331.0" height="95.00000000000003" fill="none" stroke="#868686" stroke-width="1"/>
<path d="M492.50 235.29999999999998V238.29999999999998 M492.50 333.3V336.3 M525.60 235.29999999999998V238.29999999999998 M525.60 333.3V336.3 M558.70 235.29999999999998V238.29999999999998 M558.70 333.3V336.3 M591.80 235.29999999999998V238.29999999999998 M591.80 333.3V336.3 M624.90 235.29999999999998V238.29999999999998 M624.90 333.3V336.3 M658.00 235.29999999999998V238.29999999999998 M658.00 333.3V336.3 M691.10 235.29999999999998V238.29999999999998 M691.10 333.3V336.3 M724.20 235.29999999999998V238.29999999999998 M724.20 333.3V336.3 M757.30 235.29999999999998V238.29999999999998 M757.30 333.3V336.3 M790.40 235.29999999999998V238.29999999999998 M790.40 333.3V336.3 M823.50 235.29999999999998V238.29999999999998 M823.50 333.3V336.3 M489.5 254.6H492.5 M823.5 254.6H826.5 M489.5 286.1H492.5 M823.5 286.1H826.5 M489.5 318.1H492.5 M823.5 318.1H826.5 " stroke="#868686" stroke-width="1" fill="none"/>
<path d="M492.5 254.6H525.6 M492.5 318.1H525.6 M591.8 254.6H823.5 M591.8 318.1H823.5" stroke="#1a1a1a" stroke-width="1.1" fill="none"/>
<text x="492.50" y="354.79999999999995" text-anchor="middle" font-size="14">1</text>
<text x="525.60" y="354.79999999999995" text-anchor="middle" font-size="14">0.5</text>
<text x="558.70" y="354.79999999999995" text-anchor="middle" font-size="14">0</text>
<text x="591.80" y="354.79999999999995" text-anchor="middle" font-size="14">-0.5</text>
<text x="624.90" y="354.79999999999995" text-anchor="middle" font-size="14">-1</text>
<text x="658.00" y="354.79999999999995" text-anchor="middle" font-size="14">-1.5</text>
<text x="691.10" y="354.79999999999995" text-anchor="middle" font-size="14">-2</text>
<text x="724.20" y="354.79999999999995" text-anchor="middle" font-size="14">-2.5</text>
<text x="757.30" y="354.79999999999995" text-anchor="middle" font-size="14">-3</text>
<text x="790.40" y="354.79999999999995" text-anchor="middle" font-size="14">-3.5</text>
<text x="823.50" y="354.79999999999995" text-anchor="middle" font-size="14">-4</text>
<text x="484.5" y="259.30" text-anchor="end" font-size="14">0.5</text>
<text x="484.5" y="290.80" text-anchor="end" font-size="14">0</text>
<text x="484.5" y="322.80" text-anchor="end" font-size="14">-0.5</text>
<text x="459.5" y="291.6" text-anchor="middle" font-size="17">X</text>
<text x="658" y="373.29999999999995" text-anchor="middle" font-size="17.5">Y</text>
<text x="645" y="395.99999999999994" text-anchor="middle" font-size="25">(d)</text>
<defs><linearGradient id="cb" x1="0" y1="1" x2="0" y2="0"><stop offset="0" stop-color="#fffbd3"/><stop offset="0.125" stop-color="#eef6b6"/><stop offset="0.25" stop-color="#c9e8b4"/><stop offset="0.375" stop-color="#82cdba"/><stop offset="0.5" stop-color="#43b5c3"/><stop offset="0.625" stop-color="#1f90bf"/><stop offset="0.75" stop-color="#225ea8"/><stop offset="0.875" stop-color="#243593"/><stop offset="1" stop-color="#081d58"/></linearGradient></defs>
<rect x="905" y="235" width="11.5" height="131.5" fill="url(#cb)"/>
<path d="M914.2 235.0H922.6" stroke="#333" stroke-width="1.4"/>
<text class="sans" x="926.3" y="239.2" font-size="11.8">9.1</text>
<path d="M914.2 270.1H922.6" stroke="#333" stroke-width="1.4"/>
<text class="sans" x="926.3" y="274.3" font-size="11.8">8.0</text>
<path d="M914.2 302.1H922.6" stroke="#333" stroke-width="1.4"/>
<text class="sans" x="926.3" y="306.3" font-size="11.8">7.0</text>
<path d="M914.2 334.1H922.6" stroke="#333" stroke-width="1.4"/>
<text class="sans" x="926.3" y="338.2" font-size="11.8">6.0</text>
<path d="M914.2 366.0H922.6" stroke="#333" stroke-width="1.4"/>
<text class="sans" x="926.3" y="370.2" font-size="11.8">5.0</text>
<text class="sans" x="905" y="223.6" font-size="12">pH</text>
</svg>
</body></html>
